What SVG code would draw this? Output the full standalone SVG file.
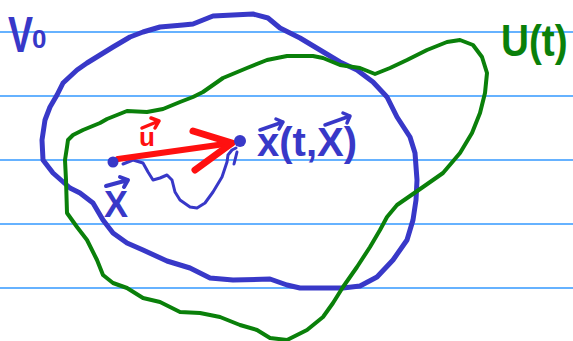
<svg xmlns="http://www.w3.org/2000/svg" width="573" height="341" viewBox="0 0 573 341">
<style>
.rule{stroke:#3399ff;stroke-width:1.6;fill:none}
.blue{stroke:#3838c8;fill:none;stroke-linecap:round;stroke-linejoin:round}
.green{stroke:#0a800a;fill:none;stroke-linecap:round;stroke-linejoin:round;stroke-width:4}
.red{stroke:#ff1010;fill:none;stroke-linecap:round;stroke-linejoin:round}
.lbl{font-family:"Liberation Sans",Arial,sans-serif;font-weight:bold}
</style>
<rect width="573" height="341" fill="#ffffff"/>
<g id="ruled-lines">
<line class="rule" x1="0" y1="32" x2="573" y2="32"/>
<line class="rule" x1="0" y1="96" x2="573" y2="96"/>
<line class="rule" x1="0" y1="160" x2="573" y2="160"/>
<line class="rule" x1="0" y1="224" x2="573" y2="224"/>
<line class="rule" x1="0" y1="288" x2="573" y2="288"/>
</g>
<g id="region-V0">
<path class="blue" stroke-width="5" d="M45,120 L50,107 L57,95 L63,83 L77,70 L87,63 L100,55 L113,47 L130,37 L143,32 L160,27 L183,25 L193,24 L203,20 L213,16 L233,15 L253,14 L268,18 L280,28 L300,38 L320,50 L340,62 L357,70 L373,82 L387,97 L397,117 L410,137 L415,153 L417,180 L416,200 L413,220 L407,240 L393,260 L377,277 L360,286 L343,288 L300,288 L287,285 L270,279 L233,280 L210,278 L190,268 L167,261 L143,250 L127,243 L113,233 L103,220 L93,203 L80,193 L70,188 L53,173 L43,160 L42,140 Z"/>
</g>
<g id="region-Ut">
<path class="green" d="M68,140 L73,135 L83,130 L100,123 L107,119 L127,111 L147,112 L163,109 L180,102 L193,97 L203,92 L223,78 L247,68 L267,60 L287,56 L313,56 L323,58 L340,65 L360,68 L370,72 L375,74 L390,68 L407,60 L427,50 L447,42 L460,40 L473,45 L482,57 L487,73 L485,93 L480,113 L472,133 L460,153 L443,173 L423,187 L410,196 L397,205 L387,217 L380,230 L370,247 L357,267 L343,287 L333,303 L323,317 L307,330 L287,340 L270,338 L257,330 L240,325 L220,317 L200,313 L180,312 L160,302 L143,298 L127,288 L113,283 L103,275 L97,260 L87,240 L77,227 L67,213 L66,180 L65,160 L67,147 Z"/>
</g>
<g id="trajectory">
<path class="blue" stroke-width="3" d="M123,164 L133,160 L143,163 L148,172 L153,180 L160,178 L167,175 L172,180 L175,192 L180,200 L190,207 L197,208 L205,203 L213,192 L222,177 L227,162 L228,155 L232,150 L236,148"/>
<path class="blue" stroke-width="3" d="M237,152 L234,164"/>
</g>
<g id="velocity-arrow">
<path class="red" stroke-width="6" d="M118,159 L232,143"/>
<path class="red" stroke-width="7" d="M193,131 L232,143 L195,170"/>
</g>
<g id="points">
<circle cx="113" cy="162" r="5.5" fill="#3838c8"/>
<circle cx="240" cy="141" r="6" fill="#3838c8"/>
</g>
<g id="labels">
<text class="lbl" x="8" y="52" font-size="50" fill="#3838c8" transform="translate(8,52) scale(0.75,1) translate(-8,-52)">V</text>
<text class="lbl" x="32" y="48" font-size="26" fill="#3838c8">0</text>
<text class="lbl" x="501" y="56" font-size="44" fill="#0a800a" transform="translate(501,56) scale(0.88,1) translate(-501,-56)">U(t)</text>
<text class="lbl" x="139" y="146" font-size="26" fill="#ff1010">u</text>
<path class="red" stroke-width="3.5" d="M142,128 L159,121 M151,118 L159,121 L155,128"/>
<text class="lbl" x="104" y="217" font-size="36" fill="#3838c8">X</text>
<path class="blue" stroke-width="4" d="M106,186 L128,180 M120,177 L128,180 L124,187"/>
<text class="lbl" x="257" y="156" font-size="40" fill="#3838c8">x(t,X)</text>
<path class="blue" stroke-width="3.5" d="M260,130 L283,122 M276,119 L283,122 L279,129"/>
<path class="blue" stroke-width="3.5" d="M325,125 L350,116 M343,113 L350,116 L347,123"/>
</g>
</svg>
